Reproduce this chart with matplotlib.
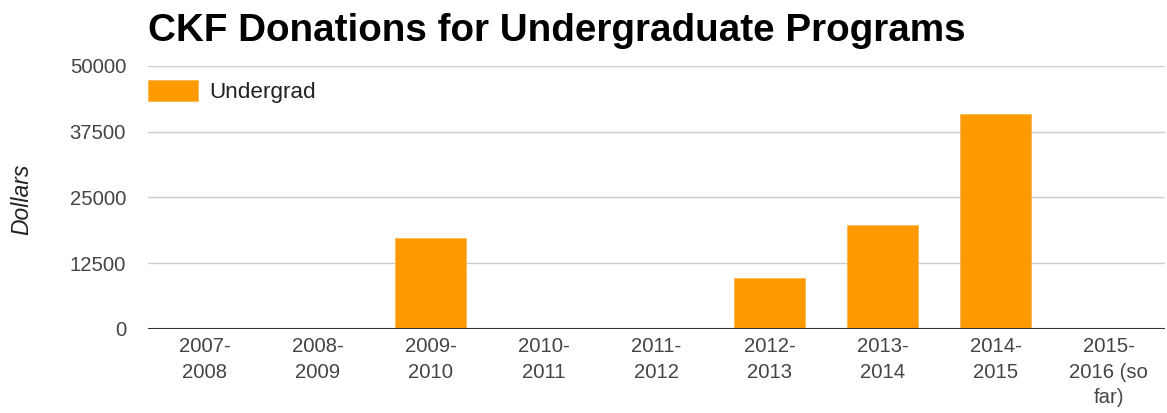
import matplotlib
matplotlib.use("Agg")
import matplotlib.pyplot as plt

plt.rcParams['font.family'] = ['Liberation Sans', 'DejaVu Sans']

years = ["2007-\n2008", "2008-\n2009", "2009-\n2010", "2010-\n2011", "2011-\n2012",
         "2012-\n2013", "2013-\n2014", "2014-\n2015", "2015-\n2016 (so\nfar)"]
undergrad = [0, 0, 17300, 0, 0, 9700, 19800, 40800, 0]
yticks = [0, 12500, 25000, 37500, 50000]

W, H = 1167, 413
fig = plt.figure(figsize=(W / 100, H / 100), dpi=100)
ax = fig.add_axes([148 / W, 1 - 329 / H, (1165 - 148) / W, (329 - 66) / H])

x = range(len(years))
ax.bar(x, undergrad, width=0.62, color='#ff9900', edgecolor='#ffb64d',
       linewidth=0.6, label='Undergrad', zorder=3)

ax.set_xlim(-0.5, len(years) - 0.5)
ax.set_ylim(0, 50000)
ax.set_yticks(yticks)
ax.set_yticklabels([str(v) for v in yticks])
ax.set_xticks(list(x))
ax.set_xticklabels(years, linespacing=1.42)

ax.grid(axis='y', color='#cccccc', linewidth=1, zorder=0)
ax.axhline(0, color='#333333', linewidth=1.5, zorder=4)
for s in ax.spines.values():
    s.set_visible(False)
ax.tick_params(axis='both', length=0, labelsize=14.6, labelcolor='#444444')
ax.tick_params(axis='y', pad=15.8)
ax.tick_params(axis='x', pad=6)

ax.legend(loc='upper left', bbox_to_anchor=(0, 1 - 14 / 263), frameon=False,
          fontsize=16.2, handlelength=2.2, handleheight=1.05, handletextpad=0.5,
          borderpad=0, borderaxespad=0, labelcolor='#222222')

fig.text(22 / W, 1 - 199 / H, 'Dollars', rotation=90, style='italic',
         fontsize=16.5, color='#222222', ha='center', va='center')
fig.text(148 / W, 1 - 41 / H, 'CKF Donations for Undergraduate Programs',
         fontsize=27.8, fontweight='bold', color='#000000', ha='left', va='baseline')

fig.savefig('out.png', dpi=100)
